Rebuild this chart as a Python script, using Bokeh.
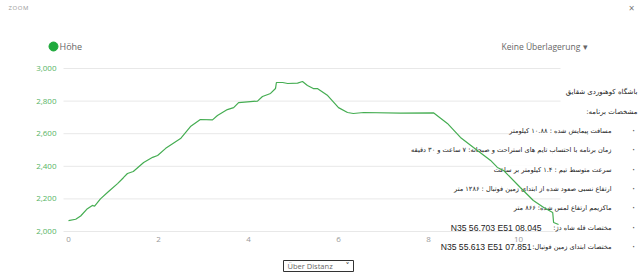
from bokeh.plotting import figure
from bokeh.models import Range1d
from bokeh.core.properties import value
from bokeh.embed import file_html
from bokeh.resources import INLINE

# ---------------- data ----------------
distance_km = [0.00, 0.16, 0.27, 0.42, 0.53, 0.58, 0.71, 0.89, 1.09, 1.22,
               1.31, 1.44, 1.67, 1.87, 1.98, 2.16, 2.49, 2.71, 2.93, 3.20,
               3.31, 3.53, 3.67, 3.78, 4.04, 4.20, 4.31, 4.49, 4.60, 4.62,
               4.76, 4.87, 5.09, 5.20, 5.31, 5.44, 5.53, 5.76, 6.00, 6.20,
               6.33, 6.56, 7.38, 8.11, 8.42, 8.71, 9.00, 9.38, 9.53, 9.67,
               10.04, 10.33, 10.56, 10.76, 10.78, 10.89]
elevation_m = [2067, 2075, 2095, 2140, 2160, 2155, 2200, 2245, 2294, 2330,
               2356, 2368, 2423, 2455, 2466, 2510, 2570, 2644, 2687, 2685,
               2712, 2748, 2760, 2791, 2797, 2800, 2828, 2847, 2877, 2914,
               2914, 2908, 2910, 2920, 2896, 2877, 2877, 2834, 2760, 2730,
               2724, 2730, 2726, 2728, 2663, 2577, 2515, 2436, 2393, 2374,
               2270, 2190, 2147, 2117, 2055, 2043]
y_ticks = [2000, 2200, 2400, 2600, 2800, 3000]
y_tick_labels = ["2,000", "2,200", "2,400", "2,600", "2,800", "3,000"]
x_ticks = [0, 2, 4, 6, 8, 10]
x_tick_labels = ["0", "2", "4", "6", "8", "10"]

series_name = "Höhe"
overlay_text = "Keine Überlagerung ▾"
select_text = "Über Distanz"

RLE, PDF = "\u202b", "\u202c"
fa_header = ["باشگاه کوهنوردی شقایق", "مشخصات برنامه:"]
fa_bullets = [
    "مسافت پیمایش شده : ۱۰.۸۸ کیلومتر",
    "زمان برنامه با احتساب تایم های استراحت و صبحانه: ۷ ساعت و ۳۰ دقیقه",
    "سرعت متوسط تیم : ۱.۴ کیلومتر بر ساعت",
    "ارتفاع نسبی صعود شده از ابتدای زمین فوتبال : ۱۲۸۶ متر",
    "ماکزیمم ارتفاع لمس شده: ۸۶۶ متر",
    "مختصات قله شاه دژ:",
    "مختصات ابتدای زمین فوتبال:",
]
coord_texts = ["N35 56.703 E51 08.045", "N35 55.613 E51 07.851"]

LINE = "#45ad52"
DOT = "#1faa3c"
TICKG = "#55b464"

# ---------------- layout helpers (pixel -> data) ----------------
W, H = 640, 273
X0PX, XPX = 68, 45.0         # 0 km at px 68, 45 px per km
Y0PX, YPX = 231, 0.163       # 2000 m at px 231, 0.163 px per m
GRID_L, GRID_R = 63, 560


def px2x(px):
    return (px - X0PX) / XPX


def py2y(py):
    return 2000 + (Y0PX - py) / YPX


p = figure(width=W, height=H, output_backend="svg", toolbar_location=None,
           x_range=Range1d(px2x(0), px2x(W)),
           y_range=Range1d(py2y(H), py2y(0)),
           x_axis_location=None, y_axis_location=None,
           min_border=0)
p.outline_line_color = None
p.background_fill_color = "white"
p.border_fill_color = "white"
p.grid.visible = False

# grid lines (one per y tick)
p.segment(x0=px2x(GRID_L), x1=px2x(GRID_R), y0=y_ticks, y1=y_ticks,
          line_color="#e8e8e8", line_width=1)

# tick labels
p.text(x=px2x(56), y=y_ticks, text=y_tick_labels, text_align="right",
       text_baseline="middle", text_font=value("Open Sans"),
       text_font_size="8px", text_color=TICKG)
p.text(x=x_ticks, y=py2y(239), text=x_tick_labels, text_align="center",
       text_baseline="middle", text_font=value("Open Sans"),
       text_font_size="8px", text_color="#999999")


def lab(text, px, py, size="9px", color="#444444", align="left",
        font="Open Sans"):
    p.text(x=[px2x(px)], y=[py2y(py)], text=[text], text_align=align,
           text_baseline="middle", text_font_size=size, text_color=color,
           text_font=value(font))


# header
lab("Z\u200aO\u200aO\u200aM", 8, 7, size="6px", color="#999999")
lab("×", 631, 7, size="10px", color="#777777", align="center")

# legend
p.scatter([px2x(53)], [py2y(46)], size=9, color=DOT)
lab(series_name, 59, 46, size="9px", color="#666666")
lab(overlay_text, 587, 46, size="8.5px", color="#666666", align="right")

# Persian overlay text with white backgrounds
FA_FONT = "DejaVu Sans"
FA_SIZE = "6.6px"
hdr_y = [91, 111]
p.text(x=px2x(637), y=[py2y(v) for v in hdr_y],
       text=[RLE + t + PDF for t in fa_header], text_align="right",
       text_baseline="middle", text_font=value(FA_FONT),
       text_font_size="7px", text_color="#222222",
       background_fill_color="white")
row_y = [130, 149, 169, 188, 207, 227, 246]
p.text(x=px2x(633), y=[py2y(v) for v in row_y], text=["·"] * len(row_y),
       text_align="center", text_baseline="middle",
       text_font=value(FA_FONT), text_font_size="10px", text_color="#555555")
p.text(x=[px2x(541), px2x(531)], y=[py2y(v) for v in row_y[-2:]],
       text=coord_texts,
       text_align="right", text_baseline="middle",
       text_font=value("Liberation Sans"), text_font_size="8.6px",
       text_color="#222222")
p.text(x=px2x(611), y=[py2y(v) for v in row_y],
       text=[RLE + t + PDF for t in fa_bullets], text_align="right",
       text_baseline="middle", text_font=value(FA_FONT),
       text_font_size=FA_SIZE, text_color="#222222",
       background_fill_color="white")

# elevation line
p.line(distance_km, elevation_m, line_color=LINE, line_width=1.2)

# select box
p.quad(left=px2x(283), right=px2x(353), top=py2y(260), bottom=py2y(271),
       fill_color="white", line_color="#333333", line_width=1)
lab(select_text, 287, 265.5, size="7.5px", color="#666666")
lab("˅", 347, 266, size="8px", color="#333333", align="center",
    font="DejaVu Sans")

open("out.html", "w").write(file_html(p, INLINE))
